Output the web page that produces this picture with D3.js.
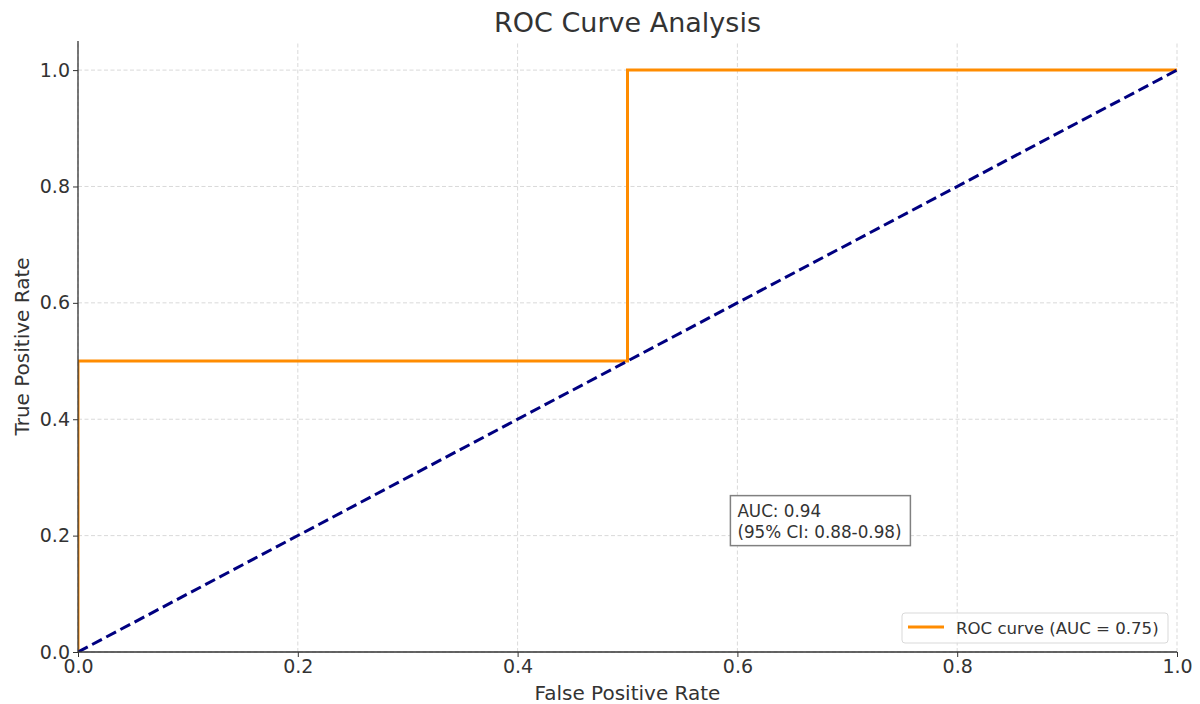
<!DOCTYPE html>
<html>
<head>
<meta charset="utf-8">
<script src="https://cdn.jsdelivr.net/npm/d3@7"></script>
<style>
  body { margin: 0; background: #fff; }
  svg { font-family: "DejaVu Sans", sans-serif; }
  .grid line { stroke: #cfcfcf; stroke-dasharray: 4,2.5; stroke-width: 0.8; }
</style>
</head>
<body>
<svg id="chart" width="1200" height="704"></svg>
<script>
// ROC points
const fpr = [0, 0, 0.5, 0.5, 1];
const tpr = [0, 0.5, 0.5, 1, 1];
const chanceX = [0, 1];
const chanceY = [0, 1];
const ticks = [0, 0.2, 0.4, 0.6, 0.8, 1.0];

const svg = d3.select("#chart");
const margin = { left: 78, right: 23, top: 41, bottom: 52 };
const width = 1200, height = 704;

const x = d3.scaleLinear().domain([0, 1]).range([margin.left, width - margin.right]);
const y = d3.scaleLinear().domain([0, 1.05]).range([height - margin.bottom, margin.top]);

// grid
svg.append("g").attr("class", "grid")
  .selectAll("line.v").data(ticks).join("line")
  .attr("x1", d => x(d)).attr("x2", d => x(d))
  .attr("y1", y(0)).attr("y2", y(1.05));
svg.append("g").attr("class", "grid")
  .selectAll("line.h").data(ticks).join("line")
  .attr("x1", x(0)).attr("x2", x(1))
  .attr("y1", d => y(d)).attr("y2", d => y(d));

svg.append("clipPath").attr("id", "clip")
  .append("rect")
  .attr("x", x(0)).attr("y", y(1.05))
  .attr("width", x(1) - x(0)).attr("height", y(0) - y(1.05));

const plot = svg.append("g").attr("clip-path", "url(#clip)");

const line = d3.line().x(d => x(d[0])).y(d => y(d[1]));

plot.append("path")
  .datum(fpr.map((f, i) => [f, tpr[i]]))
  .attr("d", line)
  .attr("fill", "none")
  .attr("stroke", "#ff8c00")
  .attr("stroke-width", 3);

plot.append("path")
  .datum(chanceX.map((f, i) => [f, chanceY[i]]))
  .attr("d", line)
  .attr("fill", "none")
  .attr("stroke", "#000080")
  .attr("stroke-width", 3)
  .attr("stroke-dasharray", "11,5");

// axes
const xAxis = svg.append("g")
  .attr("transform", `translate(0,${y(0)})`)
  .call(d3.axisBottom(x).tickValues(ticks).tickFormat(d3.format(".1f")).tickSize(5).tickPadding(3));
const yAxis = svg.append("g")
  .attr("transform", `translate(${x(0)},0)`)
  .call(d3.axisLeft(y).tickValues(ticks).tickFormat(d3.format(".1f")).tickSize(5).tickPadding(3));
[xAxis, yAxis].forEach(a => {
  a.attr("font-family", null).attr("font-size", null);
  a.select(".domain").attr("stroke", "#333").attr("stroke-width", 1.3);
  a.selectAll(".tick line").attr("stroke", "#333");
  a.selectAll(".tick text").attr("font-size", 19).attr("fill", "#333");
});
yAxis.select(".domain").attr("d", `M0,${y(1.05)}V${y(0)}`);
xAxis.select(".domain").attr("d", `M${x(0)},0H${x(1)}`);

// title and labels
svg.append("text").attr("x", (x(0) + x(1)) / 2).attr("y", 32)
  .attr("text-anchor", "middle").attr("font-size", 27).attr("fill", "#333")
  .text("ROC Curve Analysis");
svg.append("text").attr("x", (x(0) + x(1)) / 2).attr("y", 700)
  .attr("text-anchor", "middle").attr("font-size", 20).attr("fill", "#333")
  .text("False Positive Rate");
svg.append("text")
  .attr("transform", `translate(29,${(y(0) + y(1.05)) / 2}) rotate(-90)`)
  .attr("text-anchor", "middle").attr("font-size", 20).attr("fill", "#333")
  .text("True Positive Rate");

// annotation box
const ann = svg.append("g");
ann.append("rect")
  .attr("x", x(0.6) - 7).attr("y", y(0.2) - 40)
  .attr("width", 180).attr("height", 50)
  .attr("fill", "#fff").attr("stroke", "#808080").attr("stroke-width", 1.5);
ann.append("text").attr("x", x(0.6)).attr("y", y(0.2) - 19)
  .attr("font-size", 16.8).attr("fill", "#333").text("AUC: 0.94");
ann.append("text").attr("x", x(0.6)).attr("y", y(0.2) + 2)
  .attr("font-size", 16.8).attr("fill", "#333").text("(95% CI: 0.88-0.98)");

// legend
const lg = svg.append("g");
lg.append("rect")
  .attr("x", 902).attr("y", 613).attr("width", 266).attr("height", 30)
  .attr("rx", 3).attr("fill", "#fff").attr("fill-opacity", 0.8)
  .attr("stroke", "#d9d9d9");
lg.append("line").attr("x1", 908).attr("x2", 944).attr("y1", 627).attr("y2", 627)
  .attr("stroke", "#ff8c00").attr("stroke-width", 3);
lg.append("text").attr("x", 956).attr("y", 634)
  .attr("font-size", 16.6).attr("fill", "#333").text("ROC curve (AUC = 0.75)");
</script>
</body>
</html>
